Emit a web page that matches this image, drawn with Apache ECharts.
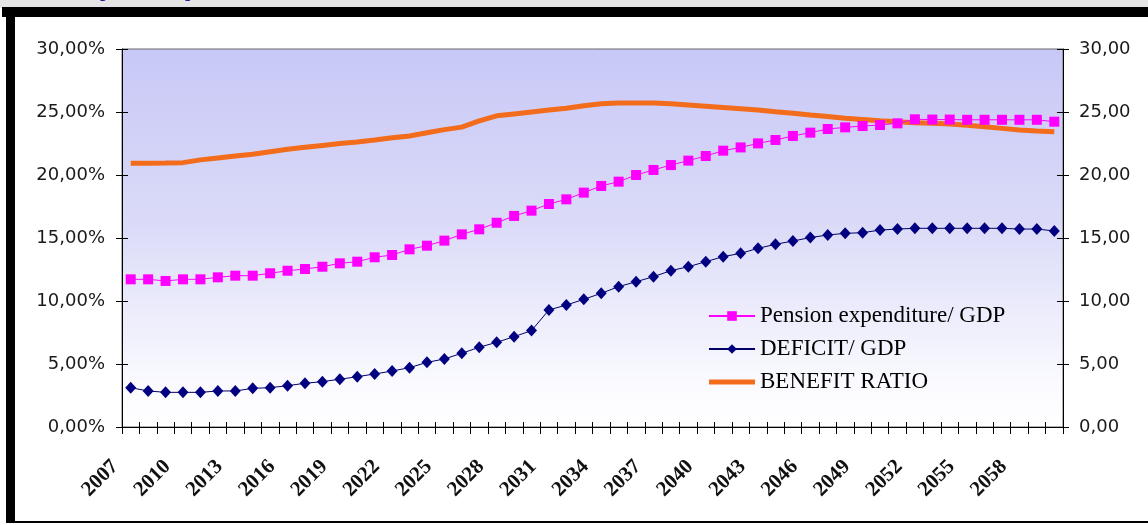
<!DOCTYPE html>
<html>
<head>
<meta charset="utf-8">
<script src="https://cdn.jsdelivr.net/npm/echarts@6/dist/echarts.min.js"></script>
<style>
  html, body { margin: 0; padding: 0; background: #ffffff; }
  #chart { width: 1148px; height: 525px; }
</style>
</head>
<body>
<div id="chart"></div>
<script>
// Projection years (one category per year)
const years = [
  '2007','2008','2009','2010','2011','2012','2013','2014','2015','2016',
  '2017','2018','2019','2020','2021','2022','2023','2024','2025','2026',
  '2027','2028','2029','2030','2031','2032','2033','2034','2035','2036',
  '2037','2038','2039','2040','2041','2042','2043','2044','2045','2046',
  '2047','2048','2049','2050','2051','2052','2053','2054','2055','2056',
  '2057','2058','2059','2060'
];

// Pension expenditure as % of GDP (left axis)
const pensionGdp = [
  11.72, 11.72, 11.59, 11.72, 11.72, 11.88, 12.01, 12.01, 12.20, 12.40,
  12.54, 12.72, 12.99, 13.12, 13.47, 13.65, 14.10, 14.39, 14.79, 15.29,
  15.69, 16.21, 16.75, 17.17, 17.70, 18.07, 18.60, 19.13, 19.47, 20.00,
  20.40, 20.79, 21.14, 21.51, 21.93, 22.19, 22.51, 22.78, 23.10, 23.36,
  23.65, 23.78, 23.89, 23.97, 24.10, 24.42, 24.40, 24.40, 24.38, 24.38,
  24.38, 24.38, 24.38, 24.23
];

// Deficit as % of GDP (left axis)
const deficitGdp = [
  3.12, 2.86, 2.75, 2.75, 2.75, 2.86, 2.86, 3.07, 3.12, 3.28,
  3.47, 3.60, 3.79, 3.99, 4.21, 4.44, 4.71, 5.13, 5.40, 5.85,
  6.33, 6.72, 7.17, 7.65, 9.29, 9.68, 10.13, 10.61, 11.14, 11.53,
  11.93, 12.41, 12.72, 13.12, 13.52, 13.78, 14.18, 14.50, 14.76, 15.03,
  15.24, 15.37, 15.42, 15.63, 15.71, 15.77, 15.77, 15.77, 15.77, 15.77,
  15.77, 15.71, 15.71, 15.56
];

// Benefit ratio (right axis)
const benefitRatio = [
  20.93, 20.93, 20.95, 20.98, 21.20, 21.35, 21.50, 21.65, 21.85, 22.05,
  22.20, 22.35, 22.50, 22.62, 22.78, 22.95, 23.10, 23.35, 23.60, 23.80,
  24.30, 24.70, 24.85, 25.00, 25.15, 25.30, 25.50, 25.65, 25.72, 25.72,
  25.72, 25.65, 25.55, 25.45, 25.35, 25.25, 25.15, 25.02, 24.90, 24.76,
  24.65, 24.50, 24.40, 24.30, 24.22, 24.15, 24.10, 24.05, 23.95, 23.83,
  23.70, 23.57, 23.50, 23.44
];

// Series names shown in the legend
const seriesNames = ['Pension expenditure/ GDP', 'DEFICIT/ GDP', 'BENEFIT RATIO'];

// Value axis range shared by both sides
const axisMin = 0, axisMax = 30, axisStep = 5;

const fmtComma = v => v.toFixed(2).replace('.', ',');

const tickStyle = { color: '#000', width: 1 };
const axisFont = { fontFamily: 'DejaVu Sans', fontSize: 18, color: '#1a1a1a' };

const chart = echarts.init(document.getElementById('chart'), null, { renderer: 'canvas' });

chart.setOption({
  animation: false,
  backgroundColor: '#ffffff',
  grid: {
    left: 122, right: 85, top: 49, bottom: 98,
    show: true,
    borderColor: '#666',
    borderWidth: 1,
    backgroundColor: new echarts.graphic.LinearGradient(0, 0, 0, 1, [
      { offset: 0, color: '#c8c8f7' },
      { offset: 0.45, color: '#dadaf8' },
      { offset: 0.9, color: '#fbfbff' },
      { offset: 1, color: '#ffffff' }
    ])
  },
  legend: {
    orient: 'vertical',
    left: 703, top: 298,
    itemWidth: 46, itemHeight: 12, itemGap: 7,
    data: [
      { name: seriesNames[0] },
      { name: seriesNames[1] },
      { name: seriesNames[2], icon: 'path://M0,0H46V5H0Z' }
    ],
    textStyle: { fontFamily: 'Liberation Serif', fontSize: 23, color: '#000', lineHeight: 26 },
    selectedMode: false
  },
  xAxis: [
    {
      type: 'category', data: years, boundaryGap: true, position: 'bottom',
      axisLine: { show: true, lineStyle: { color: '#000', width: 1 } },
      axisTick: { show: true, interval: 0, length: 7, lineStyle: tickStyle },
      axisLabel: {
        interval: 2, rotate: 45, margin: 21, padding: [0, 22, 0, 0],
        fontFamily: 'Liberation Serif', fontSize: 21, fontWeight: 'bold', color: '#111'
      },
      splitLine: { show: false }
    },
    {
      type: 'category', data: years, boundaryGap: true, position: 'bottom',
      axisLine: { show: false },
      axisTick: { show: true, inside: true, interval: 0, length: 5, lineStyle: tickStyle },
      axisLabel: { show: false },
      splitLine: { show: false }
    }
  ],
  yAxis: [
    {
      type: 'value', position: 'left', min: axisMin, max: axisMax, interval: axisStep,
      axisLine: { show: true, lineStyle: { color: '#000', width: 1 } },
      axisTick: { show: true, length: 6, lineStyle: tickStyle },
      axisLabel: { ...axisFont, margin: 17, formatter: v => fmtComma(v) + '%' },
      splitLine: { show: false }
    },
    {
      type: 'value', position: 'left', min: axisMin, max: axisMax, interval: axisStep,
      axisLine: { show: false },
      axisTick: { show: true, inside: true, length: 6, lineStyle: tickStyle },
      axisLabel: { show: false },
      splitLine: { show: false }
    },
    {
      type: 'value', position: 'right', min: axisMin, max: axisMax, interval: axisStep,
      axisLine: { show: true, lineStyle: { color: '#000', width: 1 } },
      axisTick: { show: true, length: 6, lineStyle: tickStyle },
      axisLabel: { ...axisFont, margin: 16, formatter: v => fmtComma(v) },
      splitLine: { show: false }
    },
    {
      type: 'value', position: 'right', min: axisMin, max: axisMax, interval: axisStep,
      axisLine: { show: false },
      axisTick: { show: true, inside: true, length: 6, lineStyle: tickStyle },
      axisLabel: { show: false },
      splitLine: { show: false }
    }
  ],
  series: [
    {
      name: seriesNames[0], type: 'line', yAxisIndex: 0, data: pensionGdp,
      symbol: 'rect', symbolSize: 10, showAllSymbol: true,
      lineStyle: { color: '#ff00ff', width: 1 },
      itemStyle: { color: '#ff00ff' },
      z: 4
    },
    {
      name: seriesNames[1], type: 'line', yAxisIndex: 0, data: deficitGdp,
      symbol: 'diamond', symbolSize: [11, 12], showAllSymbol: true,
      lineStyle: { color: '#000066', width: 1 },
      itemStyle: { color: '#000080' },
      z: 4
    },
    {
      name: seriesNames[2], type: 'line', yAxisIndex: 2, data: benefitRatio,
      symbol: 'none',
      lineStyle: { color: '#f26c1c', width: 5 },
      itemStyle: { color: '#f26c1c' },
      z: 3
    }
  ],
  graphic: [
    // page strip above the frame, with the heading text running off its top
    { type: 'rect', left: 0, top: 0, shape: { width: 1148, height: 8 }, style: { fill: '#e4e4e4' }, z: 0 },
    { type: 'text', x: 100, y: -7.5, style: {
        text: 'pension expenditure', fill: '#1a1a8c',
        font: 'bold 19px "Liberation Serif"', textVerticalAlign: 'middle' }, z: 1 },
    // black frame
    { type: 'rect', left: 2, top: 7, shape: { width: 1146, height: 10 }, style: { fill: '#000' }, z: 10 },
    { type: 'rect', left: 6, top: 7, shape: { width: 9, height: 516 }, style: { fill: '#000' }, z: 10 },
    { type: 'rect', left: 6, top: 521, shape: { width: 1142, height: 2 }, style: { fill: '#000' }, z: 10 }
  ]
});
</script>
</body>
</html>
